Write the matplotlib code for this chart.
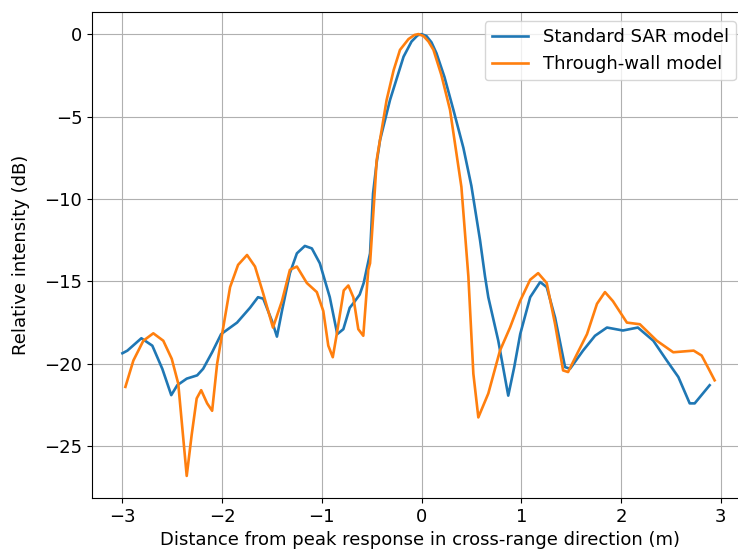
import matplotlib
matplotlib.use("Agg")
import matplotlib.pyplot as plt
import numpy as np

# Standard SAR model (blue)
std_x = [-3.0, -2.95, -2.81, -2.70, -2.60, -2.51, -2.45, -2.355, -2.25, -2.19, -2.10,
         -2.01, -1.85, -1.72, -1.64, -1.587, -1.50, -1.45, -1.40, -1.32, -1.25, -1.17,
         -1.10, -1.02, -0.92, -0.845, -0.784, -0.72, -0.68, -0.62, -0.58, -0.516,
         -0.486, -0.45, -0.416, -0.316, -0.18, -0.10, -0.04, 0.0, 0.05, 0.10, 0.15, 0.23,
         0.32, 0.42, 0.50, 0.587,
         0.637, 0.67, 0.77, 0.87, 0.93, 0.99, 1.09, 1.19, 1.256, 1.34, 1.44, 1.49,
         1.62, 1.74, 1.86, 2.02, 2.17, 2.325, 2.46, 2.576, 2.69, 2.74, 2.89]
std_y = [-19.36, -19.2, -18.45, -18.9, -20.3, -21.9, -21.3, -20.9, -20.7, -20.3, -19.3,
         -18.2, -17.5, -16.6, -15.96, -16.05, -17.4, -18.35, -16.8, -14.5, -13.3, -12.85,
         -13.0, -13.9, -15.96, -18.2, -17.9, -16.6, -16.3, -15.8, -15.1, -13.3,
         -9.67, -7.8, -6.43, -4.0, -1.37, -0.45, -0.08, 0.0, -0.12, -0.5, -1.16, -2.6,
         -4.6, -6.9, -9.2, -12.5,
         -14.7, -15.96, -18.6, -21.93, -20.2, -18.2, -15.96, -15.04, -15.35, -17.2, -20.2, -20.3,
         -19.2, -18.3, -17.8, -17.98, -17.8, -18.6, -19.8, -20.8, -22.4, -22.4, -21.3]

# Through-wall model (orange)
tw_x = [-2.97, -2.89, -2.79, -2.69, -2.59, -2.505, -2.44, -2.355, -2.305, -2.255, -2.21,
        -2.15, -2.10, -2.05, -2.0, -1.92, -1.84, -1.75, -1.67, -1.587, -1.49, -1.40,
        -1.32, -1.25, -1.15, -1.05, -0.985, -0.935, -0.89, -0.85, -0.78, -0.734, -0.684,
        -0.634, -0.584, -0.534, -0.516, -0.466, -0.45, -0.35, -0.28, -0.216, -0.13, -0.07,
        -0.03, 0.02, 0.07, 0.12, 0.20, 0.286, 0.40, 0.47, 0.52, 0.57, 0.67, 0.787, 0.888,
        0.988, 1.09, 1.17,
        1.256, 1.34, 1.42, 1.47, 1.56, 1.66, 1.76, 1.84, 1.92, 2.06, 2.19, 2.36, 2.525,
        2.73, 2.81, 2.88, 2.94]
tw_y = [-21.4, -19.8, -18.6, -18.15, -18.6, -19.7, -21.2, -26.8, -24.3, -22.1, -21.6,
        -22.4, -22.85, -20.0, -18.2, -15.35, -14.0, -13.4, -14.1, -15.75, -17.8, -16.2,
        -14.3, -14.1, -15.1, -15.65, -16.8, -18.9, -19.6, -18.2, -15.55, -15.25, -15.96,
        -17.9, -18.3, -14.3, -13.9, -9.27, -7.65, -4.0, -2.2, -0.96, -0.3, -0.05,
        0.0, -0.12, -0.45, -0.96, -2.5, -4.6, -9.27, -14.7, -20.6, -23.25, -21.8, -19.2, -17.8,
        -16.2, -14.9, -14.5,
        -15.1, -17.6, -20.4, -20.5, -19.4, -18.2, -16.36, -15.65, -16.2, -17.5, -17.6, -18.6, -19.3,
        -19.2, -19.5, -20.3, -21.0]

plt.rcParams["font.size"] = 13

fig = plt.figure(figsize=(7.38, 5.58), dpi=100)
# right spine falls just outside the picture, as in the cropped original
ax = fig.add_axes([92 / 738, 60 / 558, 656 / 738, 486 / 558])

ax.plot(std_x, std_y, color="#1f77b4", lw=1.9, label="Standard SAR model")
ax.plot(tw_x, tw_y, color="#ff7f0e", lw=1.9, label="Through-wall model")

ax.set_xlim(-3.305, -3.305 + 656 / 99.7)
ax.set_xticks([-3, -2, -1, 0, 1, 2, 3])
ax.set_xlabel("Distance from peak response in cross-range direction (m)")
ax.set_ylabel("Relative intensity (dB)", labelpad=10)
ax.grid(True)
ax.legend(loc="upper right", bbox_to_anchor=(736 / 738, 537 / 558),
          bbox_transform=fig.transFigure, borderaxespad=0)

fig.savefig("out.png", dpi=100)
